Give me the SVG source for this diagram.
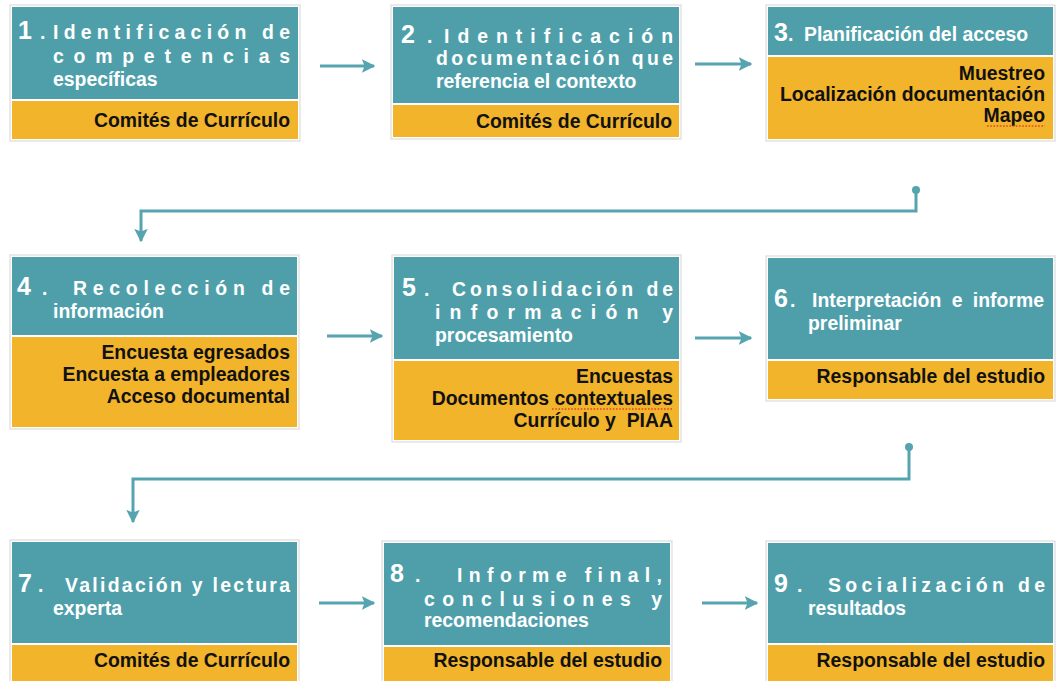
<svg xmlns="http://www.w3.org/2000/svg" width="1058" height="681" viewBox="0 0 1058 681">
<defs>
<style>
text{font-family:"Liberation Sans",Arial,sans-serif;font-weight:bold}
.frame{fill:#fff;stroke:#dcdcdc;stroke-width:1.2}
.teal{fill:#4F9FAB}
.org{fill:#F2B42A}
.t{fill:#fff;font-size:19.4px}
.n{fill:#fff;font-size:25px}
.o{fill:#111;font-size:19.4px;text-anchor:end}
.conn{fill:none;stroke:#56A4AF;stroke-width:3}
.spell{stroke:#E0462A;stroke-width:1.6;stroke-dasharray:1.6 1.6;fill:none}
</style>
<marker id="ah" viewBox="0 0 10 10" refX="9" refY="5" markerWidth="4.5" markerHeight="4.5" orient="auto" markerUnits="strokeWidth">
<path d="M0,0 L10,5 L0,10 L2,5 z" fill="#56A4AF"/>
</marker>
</defs>
<rect width="1058" height="681" fill="#fff"/>

<g id="connectors">
<path class="conn" d="M320,66 H374" marker-end="url(#ah)"/>
<path class="conn" d="M695,64 H751" marker-end="url(#ah)"/>
<circle cx="916" cy="190" r="4" fill="#56A4AF"/>
<path class="conn" d="M916,190 V211 H141 V241" marker-end="url(#ah)"/>
<path class="conn" d="M327,336 H382" marker-end="url(#ah)"/>
<path class="conn" d="M695,338 H751" marker-end="url(#ah)"/>
<circle cx="909" cy="447" r="4" fill="#56A4AF"/>
<path class="conn" d="M909,447 V479 H133 V522" marker-end="url(#ah)"/>
<path class="conn" d="M319,603 H374" marker-end="url(#ah)"/>
<path class="conn" d="M702,603 H757" marker-end="url(#ah)"/>
</g>

<g id="node1">
<rect class="frame" x="10" y="5" width="290" height="136"/>
<rect class="teal" x="12" y="7" width="286" height="92"/>
<rect class="org" x="12" y="101" width="286" height="38"/>
<text y="39"><tspan class="n" x="18">1</tspan><tspan class="t" x="40">.</tspan></text>
<text class="t" x="53" y="39" textLength="237" lengthAdjust="spacing">Identificación de</text>
<text class="t" x="53" y="63" textLength="237" lengthAdjust="spacing">competencias</text>
<text class="t" x="53" y="86">específicas</text>
<text class="o" x="290" y="127">Comités de Currículo</text>
</g>

<g id="node2">
<rect class="frame" x="391" y="5" width="290" height="134"/>
<rect class="teal" x="393" y="7" width="286" height="96"/>
<rect class="org" x="393" y="105" width="286" height="32"/>
<text y="43"><tspan class="n" x="401">2</tspan><tspan class="t" x="427">.</tspan></text>
<text class="t" x="444" y="43" textLength="229" lengthAdjust="spacing">Identificación</text>
<text class="t" x="436" y="65" textLength="237" lengthAdjust="spacing">documentación que</text>
<text class="t" x="436" y="88">referencia el contexto</text>
<text class="o" x="672" y="128">Comités de Currículo</text>
</g>

<g id="node3">
<rect class="frame" x="766" y="5" width="289" height="136"/>
<rect class="teal" x="768" y="7" width="285" height="48"/>
<rect class="org" x="768" y="57" width="285" height="82"/>
<text y="41"><tspan class="n" x="774">3</tspan><tspan class="t" x="788">.</tspan></text>
<text class="t" x="804" y="41">Planificación del acceso</text>
<text class="o" x="1045" y="80">Muestreo</text>
<text class="o" x="1045" y="101">Localización documentación</text>
<text class="o" x="1045" y="122">Mapeo</text>
<path class="spell" d="M987,126 H1045"/>
</g>

<g id="node4">
<rect class="frame" x="10" y="255" width="289" height="174"/>
<rect class="teal" x="12" y="257" width="285" height="78"/>
<rect class="org" x="12" y="337" width="285" height="90"/>
<text y="295"><tspan class="n" x="17">4</tspan><tspan class="t" x="42">.</tspan></text>
<text class="t" x="73" y="295" textLength="217" lengthAdjust="spacing">Recolección de</text>
<text class="t" x="53" y="318">información</text>
<text class="o" x="290" y="359">Encuesta egresados</text>
<text class="o" x="290" y="381">Encuesta a empleadores</text>
<text class="o" x="290" y="403">Acceso documental</text>
</g>

<g id="node5">
<rect class="frame" x="392" y="255" width="289" height="187"/>
<rect class="teal" x="394" y="257" width="285" height="102"/>
<rect class="org" x="394" y="361" width="285" height="79"/>
<text y="296"><tspan class="n" x="402">5</tspan><tspan class="t" x="424">.</tspan></text>
<text class="t" x="452" y="296" textLength="221" lengthAdjust="spacing">Consolidación de</text>
<text class="t" x="435" y="319" textLength="238" lengthAdjust="spacing">información y</text>
<text class="t" x="435" y="342">procesamiento</text>
<text class="o" x="673" y="383">Encuestas</text>
<text class="o" x="673" y="405">Documentos contextuales</text>
<text class="o" x="673" y="427">Currículo y&#160; PIAA</text>
<path class="spell" d="M552,409 H673"/>
</g>

<g id="node6">
<rect class="frame" x="766" y="256" width="289" height="145"/>
<rect class="teal" x="768" y="258" width="285" height="101"/>
<rect class="org" x="768" y="361" width="285" height="38"/>
<text y="307"><tspan class="n" x="774">6</tspan><tspan class="t" x="790">.</tspan></text>
<text class="t" x="812" y="307" style="word-spacing:5px">Interpretación e informe</text>
<text class="t" x="808" y="330">preliminar</text>
<text class="o" x="1045" y="383">Responsable del estudio</text>
</g>

<g id="node7">
<rect class="frame" x="10" y="540" width="289" height="150"/>
<rect class="teal" x="12" y="542" width="285" height="101"/>
<rect class="org" x="12" y="645" width="285" height="45"/>
<text y="592"><tspan class="n" x="18">7</tspan><tspan class="t" x="38">.</tspan></text>
<text class="t" x="65" y="592" textLength="225" lengthAdjust="spacing">Validación y lectura</text>
<text class="t" x="53" y="615">experta</text>
<text class="o" x="290" y="667">Comités de Currículo</text>
</g>

<g id="node8">
<rect class="frame" x="382" y="541" width="290" height="150"/>
<rect class="teal" x="384" y="543" width="286" height="102"/>
<rect class="org" x="384" y="647" width="286" height="45"/>
<text y="582"><tspan class="n" x="390">8</tspan><tspan class="t" x="415">.</tspan></text>
<text class="t" x="457" y="582" textLength="205" lengthAdjust="spacing">Informe final,</text>
<text class="t" x="424" y="606" textLength="238" lengthAdjust="spacing">conclusiones y</text>
<text class="t" x="424" y="627">recomendaciones</text>
<text class="o" x="662" y="667">Responsable del estudio</text>
</g>

<g id="node9">
<rect class="frame" x="766" y="541" width="289" height="150"/>
<rect class="teal" x="768" y="543" width="285" height="100"/>
<rect class="org" x="768" y="645" width="285" height="45"/>
<text y="592"><tspan class="n" x="774">9</tspan><tspan class="t" x="797">.</tspan></text>
<text class="t" x="828" y="592" textLength="217" lengthAdjust="spacing">Socialización de</text>
<text class="t" x="808" y="615">resultados</text>
<text class="o" x="1045" y="667">Responsable del estudio</text>
</g>
</svg>
